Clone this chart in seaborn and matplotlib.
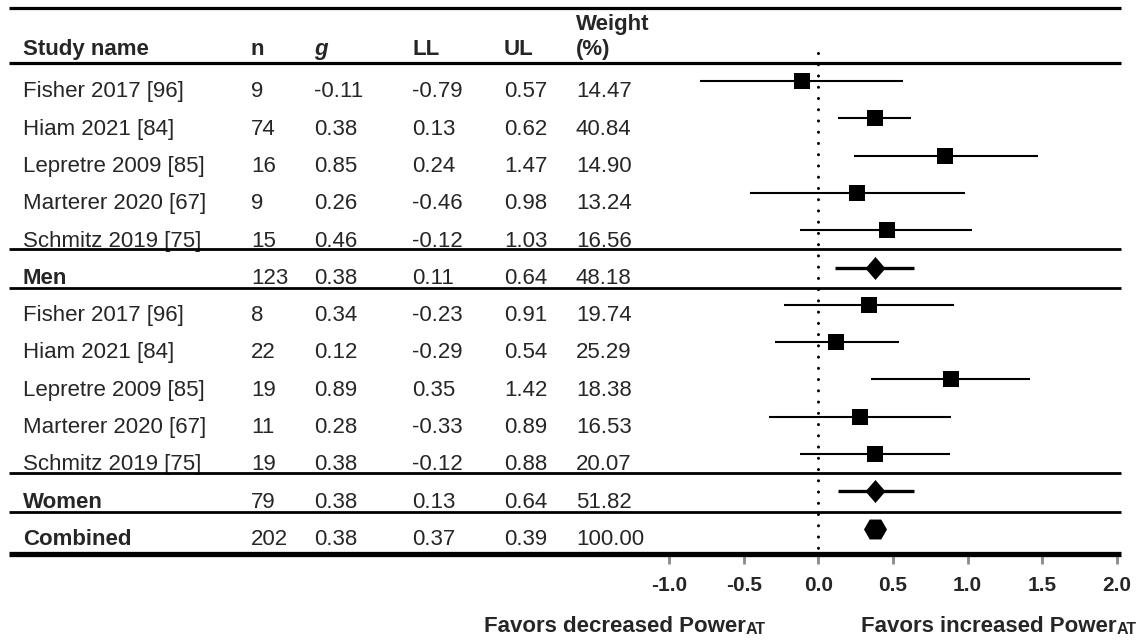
import numpy as np
import pandas as pd
import matplotlib
matplotlib.use("Agg")
import matplotlib.pyplot as plt
import matplotlib.transforms as mtransforms
from matplotlib.path import Path
import seaborn as sns

# ---------------- data ----------------
study_names = ["Fisher 2017 [96]", "Hiam 2021 [84]", "Lepretre 2009 [85]",
               "Marterer 2020 [67]", "Schmitz 2019 [75]", "Men",
               "Fisher 2017 [96]", "Hiam 2021 [84]", "Lepretre 2009 [85]",
               "Marterer 2020 [67]", "Schmitz 2019 [75]", "Women", "Combined"]
n_vals = [9, 74, 16, 9, 15, 123, 8, 22, 19, 11, 19, 79, 202]
g_vals = [-0.11, 0.38, 0.85, 0.26, 0.46, 0.38, 0.34, 0.12, 0.89, 0.28, 0.38, 0.38, 0.38]
ll_vals = [-0.79, 0.13, 0.24, -0.46, -0.12, 0.11, -0.23, -0.29, 0.35, -0.33, -0.12, 0.13, 0.37]
ul_vals = [0.57, 0.62, 1.47, 0.98, 1.03, 0.64, 0.91, 0.54, 1.42, 0.89, 0.88, 0.64, 0.39]
weight_vals = [14.47, 40.84, 14.90, 13.24, 16.56, 48.18, 19.74, 25.29, 18.38, 16.53, 20.07, 51.82, 100.00]
row_kind = ["study"] * 5 + ["subtotal"] + ["study"] * 5 + ["subtotal"] + ["total"]
header_labels = ["Study name", "n", "g", "LL", "UL", "(%)"]
x_ticks = [-1.0, -0.5, 0.0, 0.5, 1.0, 1.5, 2.0]
left_label = "Favors decreased Power"
right_label = "Favors increased Power"
label_sub = "AT"

df = pd.DataFrame({"name": study_names, "n": n_vals, "g": g_vals, "LL": ll_vals,
                   "UL": ul_vals, "weight": weight_vals, "kind": row_kind})
df["row"] = np.arange(len(df))

# ---------------- style ----------------
sns.set_theme(style="white")
plt.rcParams["font.family"] = ["Liberation Sans", "DejaVu Sans"]
plt.rcParams["axes.unicode_minus"] = False

W, H = 1146, 644
fig = plt.figure(figsize=(W / 100, H / 100), dpi=100)
ax = fig.add_axes([669 / W, 1 - 554 / H, (1117 - 669) / W, (554 - 8) / H])

FS = 16

# CI lines
for _, r in df.iterrows():
    lw = 1.5 if r["kind"] == "study" else 2.4
    ax.hlines(r["row"], r["LL"], r["UL"], color="black", lw=lw, zorder=2)

# markers
sns.scatterplot(data=df[df["kind"] == "study"], x="g", y="row", marker="s",
                s=125, color="black", edgecolor="black", linewidth=0, ax=ax, zorder=3)
diamond = Path([(0, 1), (0.87, 0), (0, -1), (-0.87, 0), (0, 1)],
               [Path.MOVETO, Path.LINETO, Path.LINETO, Path.LINETO, Path.CLOSEPOLY])
sns.scatterplot(data=df[df["kind"] == "subtotal"], x="g", y="row", marker=diamond,
                s=274, color="black", edgecolor="black", linewidth=0, ax=ax, zorder=3)
sns.scatterplot(data=df[df["kind"] == "total"], x="g", y="row", marker="H",
                s=274, color="black", edgecolor="black", linewidth=0, ax=ax, zorder=3)

# zero reference dotted line
ax.plot([0, 0], [-0.75, 12.6], color="black", lw=2.2,
        linestyle=(0, (0.01, 3.67)), dash_capstyle="round", zorder=1, clip_on=False)

ax.set_xlim(-1, 2)
ax.set_ylim(12.68, -1.96)
ax.set_xlabel("")
ax.set_ylabel("")
ax.set_yticks([])
ax.set_xticks(x_ticks, labels=[f"{t:.1f}" for t in x_ticks])
for lab in ax.get_xticklabels():
    lab.set_fontweight("bold")
    lab.set_fontsize(15)
ax.tick_params(axis="x", direction="out", length=7, width=2, color="#8a8a8a",
               pad=9, bottom=True)
for sp in ax.spines.values():
    sp.set_visible(False)
ax.patch.set_alpha(0)

# horizontal rules across the whole table
trans = mtransforms.blended_transform_factory(fig.transFigure, ax.transData)
rules = [(-1.96, 2.3), (-0.48, 2.3), (4.5, 2.0), (5.56, 2.0), (10.52, 2.0), (11.56, 2.0), (12.68, 3.8)]
for y, lw in rules:
    ax.plot([9 / W, 1121 / W], [y, y], transform=trans, color="black", lw=lw,
            clip_on=False, solid_capstyle="butt", zorder=4)

# table text
col_x = [23, 251, 314, 412, 504, 576]
base = 0.437
for i, lab in enumerate(header_labels):
    style = "italic" if lab == "g" else "normal"
    ax.text(col_x[i] / W, -0.70, lab, transform=trans, fontsize=FS, fontweight="bold",
            fontstyle=style, va="baseline", ha="left")
ax.text(col_x[5] / W, -1.37, "Weight", transform=trans, fontsize=FS, fontweight="bold",
        va="baseline", ha="left")

for _, r in df.iterrows():
    y = r["row"] + base
    ax.text(col_x[0] / W, y, r["name"], transform=trans, fontsize=FS,
            fontweight="normal" if r["kind"] == "study" else "bold", va="baseline")
    vals = [f"{r['n']}", f"{r['g']:.2f}", f"{r['LL']:.2f}", f"{r['UL']:.2f}", f"{r['weight']:.2f}"]
    for j, v in enumerate(vals):
        ax.text(col_x[j + 1] / W, y, v, transform=trans, fontsize=FS, va="baseline")

# bottom annotations
for xs, txt in [(484, left_label), (861, right_label)]:
    t = fig.text(xs / W, 1 - 632 / H, txt, fontsize=FS, fontweight="bold", va="baseline")
    ax.annotate(label_sub, xy=(1, 0), xycoords=t, fontsize=11.5, fontweight="bold",
                va="bottom", ha="left")

fig.savefig("out.png", dpi=100)
